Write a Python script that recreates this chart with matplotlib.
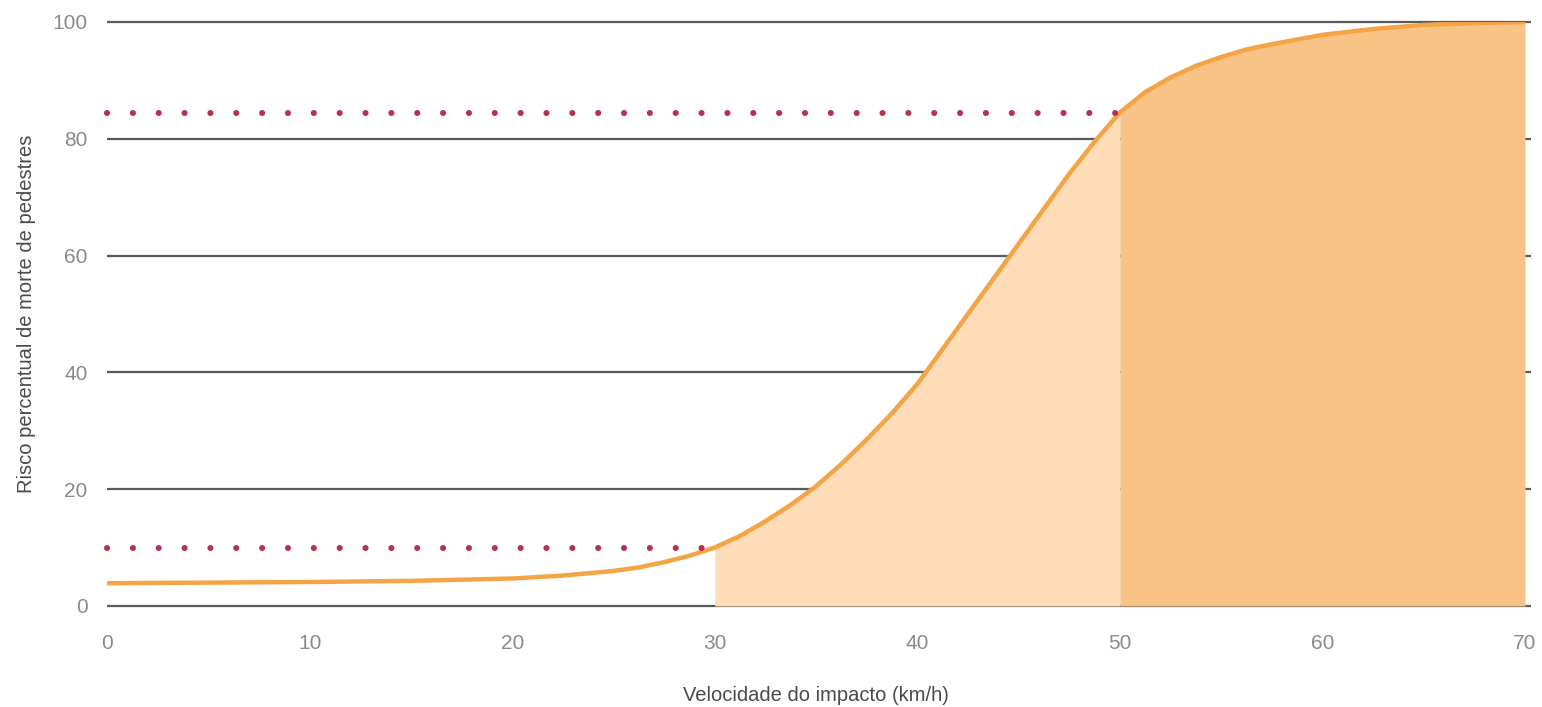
import matplotlib
matplotlib.use("Agg")
import matplotlib.pyplot as plt
import numpy as np

# impact speed (km/h) vs pedestrian fatality risk (%)
speed = [0, 5, 10, 15, 20, 22.5, 25, 26.25, 27.5, 28.75, 30, 31.25, 32.5, 33.75,
         35, 36.25, 37.5, 38.75, 40, 41.25, 42.5, 43.75, 45, 46.25, 47.5, 48.75,
         50, 51.25, 52.5, 53.75, 55, 56.25, 57.5, 60, 62.5, 65, 67.5, 70]
risk = [3.9, 4.0, 4.1, 4.3, 4.7, 5.2, 6.0, 6.6, 7.5, 8.6, 10.0, 12.0, 14.5, 17.3,
        20.5, 24.3, 28.5, 33.0, 38.0, 44.0, 50.0, 56.0, 62.0, 68.0, 74.0, 79.5,
        84.5, 88.0, 90.5, 92.5, 94.0, 95.3, 96.2, 97.8, 98.8, 99.5, 99.8, 100.0]

# reference levels (dotted): risk at 30 and 50 km/h
ref_speed = [30, 50]
ref_risk = [10.0, 84.5]

xticks = [0, 10, 20, 30, 40, 50, 60, 70]
yticks = [0, 20, 40, 60, 80, 100]

plt.rcParams['font.family'] = ['Liberation Sans', 'DejaVu Sans']

fig = plt.figure(figsize=(15.42, 7.07), dpi=100)
ax = fig.add_axes([0.0694, 0.1429, 0.9196, 0.826])

sp = np.array(speed)
rk = np.array(risk)

# shaded regions under the curve
ax.fill_between(sp, 0, rk, where=(sp >= 30) & (sp <= 50), color='#fddcb7', lw=0, zorder=2)
ax.fill_between(sp, 0, rk, where=(sp >= 50), color='#f9c385', lw=0, zorder=2)

# grid lines
for y in yticks:
    ax.plot([0, 70.3], [y, y], color='#5a5a5a', lw=1.6, zorder=1, clip_on=False,
            solid_capstyle='butt')

ax.plot(sp, rk, color='#f4a445', lw=3.2, zorder=4, solid_capstyle='round',
        solid_joinstyle='round')

for s, r in zip(ref_speed, ref_risk):
    ax.plot([0, s], [r, r], color='#b8324e', lw=4.4, ls=(0, (0.01, 4.22)),
            dash_capstyle='round', zorder=5, clip_on=False)

ax.set_xlim(0, 70)
ax.set_ylim(0, 100)
for spine in ax.spines.values():
    spine.set_visible(False)

ax.set_xticks(xticks)
ax.set_yticks(yticks)
ax.tick_params(length=0, labelsize=15, labelcolor='#8a8a8a')
ax.tick_params(axis='x', pad=20)
ax.tick_params(axis='y', pad=14)

ax.set_xlabel('Velocidade do impacto (km/h)', fontsize=14.5, color='#4a4a4a', labelpad=24)
ax.set_ylabel('Risco percentual de morte de pedestres', fontsize=14.5, color='#4a4a4a',
              labelpad=12)

fig.savefig('out.png', dpi=100)
